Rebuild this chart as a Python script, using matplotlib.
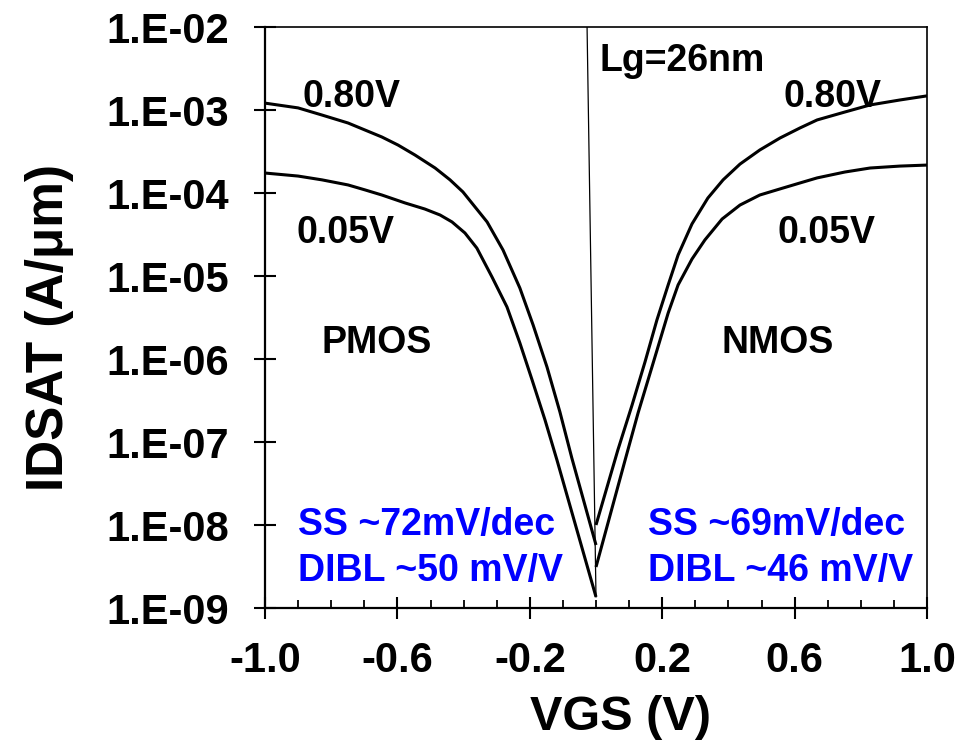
import matplotlib
matplotlib.use("Agg")
import matplotlib.pyplot as plt
from matplotlib.ticker import FixedLocator, FuncFormatter, LogLocator, MultipleLocator

plt.rcParams['font.family'] = ['Liberation Sans', 'DejaVu Sans']
plt.rcParams['font.weight'] = 'bold'

# ---- data ----
pmos_080_vgs = [-1.000, -0.900, -0.828, -0.749, -0.698, -0.647, -0.598, -0.547, -0.486, -0.441,
                -0.402, -0.329, -0.281, -0.230, -0.190, -0.148, -0.109, -0.073, 0.0]
pmos_080_id = [1.21e-3, 1.06e-3, 8.7e-4, 6.97e-4, 5.74e-4, 4.73e-4, 3.78e-4, 2.87e-4, 2.0e-4, 1.44e-4,
               1.03e-4, 4.48e-5, 2.06e-5, 7.16e-6, 2.57e-6, 8.0e-7, 2.30e-7, 6.41e-8, 5.74e-9]

pmos_005_vgs = [-1.000, -0.900, -0.828, -0.749, -0.698, -0.647, -0.577, -0.517, -0.471, -0.435,
                -0.396, -0.360, -0.314, -0.269, -0.230, -0.193, -0.154, -0.118, 0.0]
pmos_005_id = [1.74e-4, 1.60e-4, 1.44e-4, 1.25e-4, 1.09e-4, 9.46e-5, 7.59e-5, 6.41e-5, 5.43e-5, 4.48e-5,
               3.30e-5, 2.17e-5, 9.7e-6, 4.24e-6, 1.56e-6, 5.58e-7, 1.84e-7, 6.07e-8, 1.36e-9]

nmos_080_vgs = [0.0, 0.066, 0.109, 0.148, 0.184, 0.218, 0.248, 0.290, 0.338, 0.384,
                0.435, 0.495, 0.556, 0.616, 0.668, 0.752, 0.828, 0.918, 1.000]
nmos_080_id = [1.0e-8, 8.0e-8, 2.79e-7, 9.2e-7, 2.95e-6, 7.8e-6, 1.79e-5, 4.24e-5, 8.7e-5, 1.44e-4,
               2.23e-4, 3.30e-4, 4.60e-4, 6.07e-4, 7.59e-4, 9.46e-4, 1.15e-3, 1.32e-3, 1.48e-3]

nmos_005_vgs = [0.0, 0.088, 0.127, 0.169, 0.218, 0.248, 0.290, 0.329, 0.381, 0.435,
                0.495, 0.556, 0.616, 0.668, 0.752, 0.828, 0.918, 1.000]
nmos_005_id = [3.12e-9, 6.07e-8, 2.23e-7, 8.0e-7, 3.58e-6, 7.80e-6, 1.60e-5, 2.72e-5, 4.86e-5, 7.16e-5,
               9.46e-5, 1.12e-4, 1.32e-4, 1.52e-4, 1.79e-4, 2.0e-4, 2.11e-4, 2.17e-4]

divider_vgs = [-0.027, 0.0]
divider_id = [1e-2, 1.36e-9]

x_ticks = [-1.0, -0.6, -0.2, 0.2, 0.6, 1.0]
y_ticks = [1e-9, 1e-8, 1e-7, 1e-6, 1e-5, 1e-4, 1e-3, 1e-2]
y_tick_labels = ["1.E-09", "1.E-08", "1.E-07", "1.E-06", "1.E-05", "1.E-04", "1.E-03", "1.E-02"]

W, H = 971, 749
fig = plt.figure(figsize=(W / 100, H / 100), dpi=100)
L, R, T, B = 265, 927, 27, 608
ax = fig.add_axes([L / W, 1 - B / H, (R - L) / W, (B - T) / H])

lw = 2.2
for xs, ys in [(pmos_080_vgs, pmos_080_id), (pmos_005_vgs, pmos_005_id),
               (nmos_080_vgs, nmos_080_id), (nmos_005_vgs, nmos_005_id)]:
    ax.plot(xs, ys, color='black', lw=lw, solid_joinstyle='round', solid_capstyle='butt')
ax.plot(divider_vgs, divider_id, color='black', lw=0.9)

ax.set_yscale('log')
ax.set_xlim(-1.0, 1.0)
ax.set_ylim(1e-9, 1e-2)

ax.xaxis.set_major_locator(FixedLocator(x_ticks))
ax.xaxis.set_major_formatter(FuncFormatter(lambda v, p: f"{v:.1f}"))
ax.xaxis.set_minor_locator(MultipleLocator(0.1))
ax.yaxis.set_major_locator(FixedLocator(y_ticks))
ax.yaxis.set_major_formatter(FuncFormatter(
    lambda v, p: y_tick_labels[y_ticks.index(min(y_ticks, key=lambda t: abs(t - v)))]))
ax.yaxis.set_minor_locator(LogLocator(base=10, subs=range(2, 10)))
ax.yaxis.set_minor_formatter(FuncFormatter(lambda v, p: ""))

for s in ['left', 'bottom']:
    ax.spines[s].set_linewidth(1.6)
for s in ['top', 'right']:
    ax.spines[s].set_linewidth(1.2)

ax.tick_params(which='major', direction='inout', length=16, width=1.5, labelsize=30, top=False, right=False)
ax.tick_params(which='minor', direction='in', length=6, width=1.3, top=False, right=False)
ax.tick_params(axis='y', which='major', pad=18)
ax.tick_params(axis='x', which='major', pad=16)
for lab in ax.get_xticklabels() + ax.get_yticklabels():
    lab.set_fontweight('bold')


def px(xp, yp):
    return ((xp - L) / (R - L), (B - yp) / (B - T))


def put(text, xp, yp, color='black', size=27):
    fx, fy = px(xp, yp)
    ax.text(fx, fy, text, transform=ax.transAxes, ha='left', va='baseline',
            fontsize=size, fontweight='bold', color=color)


put("Lg=26nm", 600, 71)
put("0.80V", 302, 107)
put("0.05V", 297, 243)
put("PMOS", 322, 353)
put("0.80V", 783, 107)
put("0.05V", 777, 243)
put("NMOS", 722, 353)
put("SS ~72mV/dec", 298, 535, color='#0000FF')
put("DIBL ~50 mV/V", 298, 581, color='#0000FF')
put("SS ~69mV/dec", 648, 535, color='#0000FF')
put("DIBL ~46 mV/V", 648, 581, color='#0000FF')

fig.text(50 / W, 1 - 328 / H, "IDSAT (A/\u03bcm)", rotation=90, ha='center', va='center',
         fontsize=37, fontweight='bold')
fig.text(620 / W, 1 - 718 / H, "VGS (V)", ha='center', va='center',
         fontsize=35, fontweight='bold')

fig.savefig("out.png", dpi=100)
